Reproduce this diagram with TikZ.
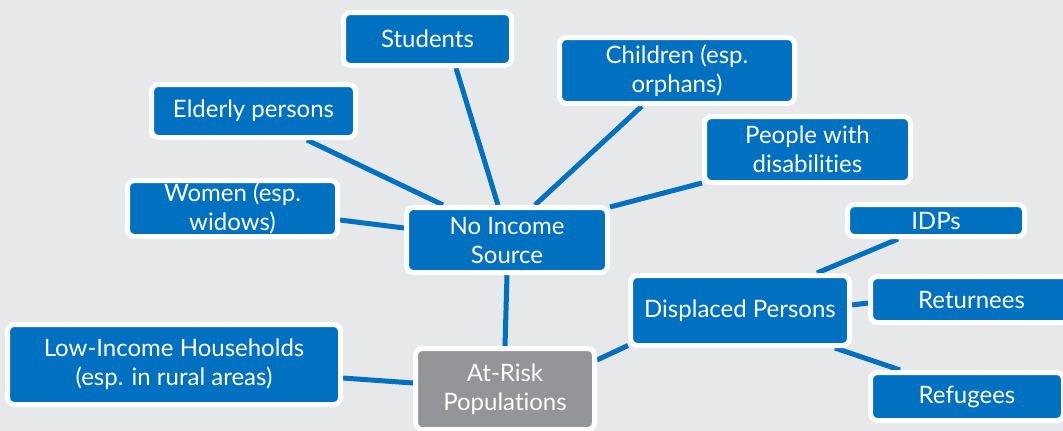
\documentclass[tikz,border=0pt]{standalone}
\usepackage{fontspec}
\setmainfont{Lato}[Ligatures={NoCommon}]
\definecolor{bgc}{RGB}{231,232,234}
\definecolor{boxblue}{RGB}{0,112,192}
\definecolor{boxgray}{RGB}{147,149,152}
\pgfdeclarelayer{bglayer}
\pgfdeclarelayer{linklayer}
\pgfsetlayers{bglayer,linklayer,main}
\begin{document}
\begin{tikzpicture}[x=1pt,y=-1pt,
  box/.style={draw=white,line width=5pt,fill=boxblue,rounded corners=7pt,
    text=white,align=center,inner sep=0pt,
    font=\fontsize{24}{29}\selectfont},
  graybox/.style={box,fill=boxgray},
  link/.style={draw=boxblue,line width=5pt}]
\useasboundingbox (0,0) rectangle (1063,431);
\begin{pgfonlayer}{bglayer}
\fill[bgc] (0,0) rectangle (1063,431);
\end{pgfonlayer}
% nodes
\node[box,minimum width=168pt,minimum height=53pt] (stud) at (427.5,39) {Students};
\node[box,minimum width=235pt,minimum height=66pt] (child) at (677,70.5) {Children (esp.\\orphans)};
\node[box,minimum width=204pt,minimum height=53pt] (eld) at (253.5,111) {Elderly persons};
\node[box,minimum width=206pt,minimum height=66pt] (dis) at (807.5,149.5) {People with\\disabilities};
\node[box,minimum width=210pt,minimum height=56pt] (wom) at (232.5,208.5) {Women (esp.\\widows)};
\node[box,minimum width=201pt,minimum height=65pt] (noinc) at (507,240) {No Income\\Source};
\node[box,minimum width=177pt,minimum height=32pt] (idp) at (936,220.5) {IDPs};
\node[box,minimum width=202pt,minimum height=46pt] (ret) at (971.5,299.5) {Returnees};
\node[box,minimum width=219pt,minimum height=70pt] (disp) at (740,310.5) {Displaced Persons};
\node[box,minimum width=333pt,minimum height=80pt] (low) at (174,364.5) {Low-Income Households\\(esp. in rural areas)};
\node[graybox,minimum width=179pt,minimum height=81pt] (atrisk) at (505,389) {At-Risk\\Populations};
\node[box,minimum width=193pt,minimum height=48pt] (ref) at (967,396.5) {Refugees};
% connectors (behind nodes)
\begin{pgfonlayer}{linklayer}
\draw[link] ([xshift=53.5pt]eld.south) -- ([xshift=-64pt]noinc.north);
\draw[link] ([xshift=28.5pt]stud.south) -- ([xshift=-9pt]noinc.north);
\draw[link] ([yshift=-11.5pt]wom.east) -- ([yshift=12pt]noinc.west);
\draw[link] ([xshift=-35pt]child.south) -- ([xshift=28pt]noinc.north);
\draw[link] ([yshift=2pt]dis.south west) -- ([yshift=-2pt]noinc.north east);
\draw[link] (noinc.south) -- (atrisk.north);
\draw[link] ([yshift=-13.5pt]low.east) -- ([yshift=6pt]atrisk.west);
\draw[link] ([yshift=29pt]atrisk.east) -- ([yshift=-35pt]disp.west);
\draw[link] ([xshift=77pt]disp.north) -- ([xshift=-38pt]idp.south);
\draw[link] ([yshift=5.5pt]disp.east) -- ([yshift=-3.5pt]ret.west);
\draw[link] ([xshift=95pt]disp.south) -- ([xshift=-67pt]ref.north);
\end{pgfonlayer}
\end{tikzpicture}
\end{document}
